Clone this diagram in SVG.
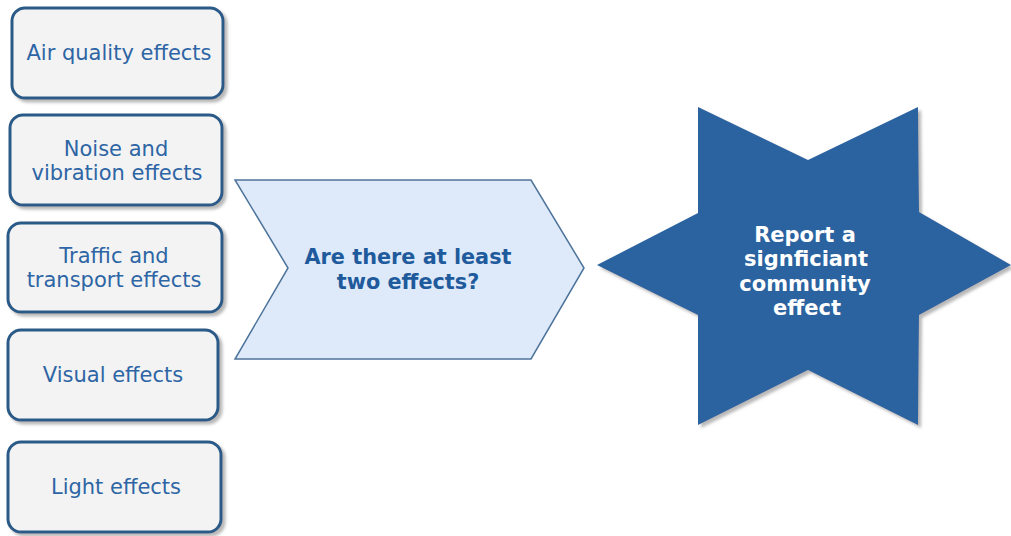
<svg xmlns="http://www.w3.org/2000/svg" width="1011" height="536" viewBox="0 0 1011 536">
<defs>
<filter id="sh" x="-10%" y="-10%" width="130%" height="130%">
<feGaussianBlur in="SourceAlpha" stdDeviation="1.5"/>
<feOffset dx="3" dy="3" result="b"/>
<feFlood flood-color="#9a9a9a" flood-opacity="0.7"/>
<feComposite in2="b" operator="in"/>
<feMerge><feMergeNode/><feMergeNode in="SourceGraphic"/></feMerge>
</filter>
<style>
.box{fill:#f3f3f3;stroke:#2c5a88;stroke-width:3;filter:url(#sh)}
.bt{font-family:"DejaVu Sans",Verdana,sans-serif;font-size:21px;fill:#2d65a5;text-anchor:middle}
.ct{font-family:"DejaVu Sans",Verdana,sans-serif;font-size:20.8px;font-weight:bold;fill:#1f5b9c;text-anchor:middle}
.st{font-family:"DejaVu Sans",Verdana,sans-serif;font-size:21px;font-weight:bold;fill:#ffffff;text-anchor:middle}
</style>
</defs>
<rect width="1011" height="536" fill="#ffffff"/>
<g id="air"><rect class="box" x="12" y="8" width="211" height="90" rx="13"/><text class="bt" x="119" y="60">Air quality effects</text></g>
<g id="noise"><rect class="box" x="10" y="115" width="212" height="90" rx="13"/><text class="bt" x="116" y="156">Noise and</text><text class="bt" x="117" y="180">vibration effects</text></g>
<g id="traffic"><rect class="box" x="8" y="223" width="214" height="89" rx="13"/><text class="bt" x="114" y="263">Traffic and</text><text class="bt" x="114" y="287">transport effects</text></g>
<g id="visual"><rect class="box" x="8" y="330" width="210" height="90" rx="13"/><text class="bt" x="113" y="382">Visual effects</text></g>
<g id="light"><rect class="box" x="8" y="442" width="213" height="90" rx="13"/><text class="bt" x="116" y="494">Light effects</text></g>
<g id="question"><polygon points="235,180 531,180 584,268 531,359 235,359 288,268" fill="#deeaf9" stroke="#4d739a" stroke-width="1.5"/><text class="ct" x="408" y="264">Are there at least</text><text class="ct" x="408" y="289">two effects?</text></g>
<g id="report"><polygon points="698,107 808,160 918,107 919,212 1011,265 919,315 918,425 808,370 698,425 698,315 597,265 698,213" fill="#2b63a0" filter="url(#sh)"/><text class="st" x="805" y="242">Report a</text><text class="st" x="806" y="266">signficiant</text><text class="st" x="805" y="291">community</text><text class="st" x="807" y="315">effect</text></g>
<g id="connectors"></g>
</svg>
